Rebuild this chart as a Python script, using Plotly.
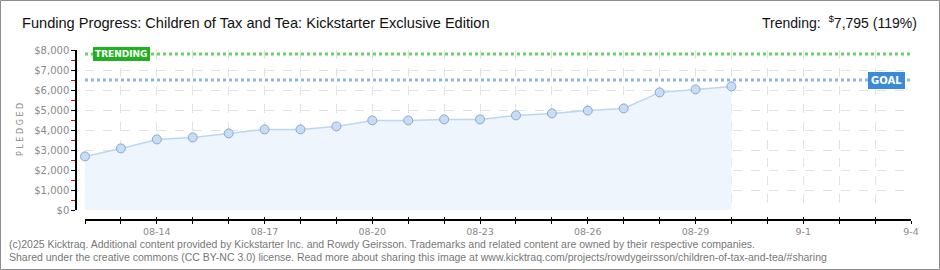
import plotly.graph_objects as go
import pandas as pd

# ---- data ----
dates = pd.date_range("2025-08-12", "2025-08-30").strftime("%Y-%m-%d").tolist()
pledged = [2680, 3080, 3530, 3630, 3830, 4030, 4030, 4180, 4480, 4480, 4530,
           4530, 4730, 4830, 4970, 5080, 5880, 6030, 6180]
goal = 6500
trending = 7800
x_start = "2025-08-12"
x_end = "2025-09-04"
tick_dates = pd.date_range(x_start, x_end).strftime("%Y-%m-%d").tolist()
label_dates = ["2025-08-14", "2025-08-17", "2025-08-20", "2025-08-23",
               "2025-08-26", "2025-08-29", "2025-09-01", "2025-09-04"]
label_texts = ["08-14", "08-17", "08-20", "08-23", "08-26", "08-29", "9-1", "9-4"]
y_ticks = [0, 1000, 2000, 3000, 4000, 5000, 6000, 7000, 8000]
y_labels = ["$0", "$1,000", "$2,000", "$3,000", "$4,000", "$5,000", "$6,000", "$7,000", "$8,000"]

title = "Funding Progress: Children of Tax and Tea: Kickstarter Exclusive Edition"
trend_text = "Trending:  <sup>$</sup>7,795 (119%)"
footer1 = ("(c)2025 Kicktraq. Additional content provided by Kickstarter Inc. and Rowdy Geirsson. "
           "Trademarks and related content are owned by their respective companies.")
footer2 = ("Shared under the creative commons (CC BY-NC 3.0) license. Read more about sharing this image at "
           "www.kicktraq.com/projects/rowdygeirsson/children-of-tax-and-tea/#sharing")

# ---- geometry ----
W, H = 940, 270
L, R, T, B = 76, 29, 50, 50
PW, PH = W - L - R, H - T - B


def px(x):
    return (x - L) / PW


def py(y):
    return (H - B - y) / PH


TICKFONT = dict(family="DejaVu Sans", size=10, color="#8a8a8a")
SANS = "Liberation Sans, Arial, sans-serif"
GRID = dict(showgrid=True, gridcolor="#e2e2e2", griddash="dash", gridwidth=1)

fig = go.Figure()
fig.add_trace(go.Scatter(
    x=dates, y=pledged, mode="lines+markers", fill="tozeroy",
    fillcolor="#eef5fd", line=dict(color="#bcd6f2", width=1.5),
    marker=dict(size=9, color="#c6ddf8", line=dict(color="#8fa6c6", width=1)),
    cliponaxis=False, hoverinfo="skip", showlegend=False,
))

# trending / goal lines
fig.add_shape(type="line", xref="x", yref="y", x0=x_start, x1=x_end, y0=trending, y1=trending,
              line=dict(color="#6ccf6c", width=3, dash="dot"), layer="above")
fig.add_shape(type="line", xref="x", yref="y", x0=x_start, x1=x_end, y0=goal, y1=goal,
              line=dict(color="#8fb6e2", width=3, dash="dot"), layer="above")

# outer border
fig.add_shape(type="rect", xref="paper", yref="paper",
              x0=px(0.5), x1=px(W - 0.5), y0=py(H - 0.5), y1=py(0.5),
              line=dict(color="#8c8c8c", width=1), layer="above")

ann = []
ann.append(dict(xref="paper", yref="y", x=px(93), y=trending, xanchor="left", yanchor="middle",
                text="<b>TRENDING</b>", showarrow=False, bgcolor="#22b022", bordercolor="#22b022",
                borderpad=1, font=dict(family="DejaVu Sans", size=9, color="white")))
ann.append(dict(xref="paper", yref="y", x=px(905), y=goal, xanchor="right", yanchor="middle",
                text="<b>GOAL</b>", showarrow=False, bgcolor="#3b8ad9", bordercolor="#3b8ad9",
                borderpad=2, font=dict(family="DejaVu Sans", size=10, color="white")))
ann.append(dict(xref="paper", yref="paper", x=px(20), y=py(23), xanchor="left", yanchor="middle",
                text=title, showarrow=False, font=dict(family=SANS, size=14.6, color="#111111")))
ann.append(dict(xref="paper", yref="paper", x=px(919), y=py(22), xanchor="right", yanchor="middle",
                text=trend_text, showarrow=False, font=dict(family=SANS, size=14, color="#111111")))
ann.append(dict(xref="paper", yref="paper", x=px(20), y=py(130), xanchor="center", yanchor="middle",
                text="P L E D G E D", textangle=-90, showarrow=False,
                font=dict(family="DejaVu Sans", size=8, color="#8a8a8a")))
ann.append(dict(xref="paper", yref="paper", x=px(7), y=py(244), xanchor="left", yanchor="middle",
                text=footer1, showarrow=False, font=dict(family=SANS, size=10.5, color="#777777")))
ann.append(dict(xref="paper", yref="paper", x=px(7), y=py(257), xanchor="left", yanchor="middle",
                text=footer2, showarrow=False, font=dict(family=SANS, size=10.5, color="#777777")))

fig.update_layout(
    width=W, height=H, margin=dict(l=L, r=R, t=T, b=B),
    paper_bgcolor="white", plot_bgcolor="white",
    annotations=ann, showlegend=False,
    xaxis=dict(
        type="date", range=[x_start, x_end], domain=[9 / PW, 1],
        anchor="free", position=0,
        tickmode="array", tickvals=label_dates, ticktext=label_texts,
        ticks="outside", ticklen=3, tickcolor="black", tickwidth=1,
        minor=dict(tickmode="array", tickvals=tick_dates, ticks="outside", ticklen=3,
                   tickcolor="black", **GRID),
        showline=True, linecolor="black", linewidth=1.5,
        zeroline=False, tickfont=dict(family="DejaVu Sans", size=9.5, color="#8a8a8a"),
        ticklabelstandoff=0, **GRID,
    ),
    xaxis2=dict(
        type="date", range=[x_start, x_end], domain=[9 / PW, 1],
        overlaying="x", anchor="free", position=0,
        tickmode="array", tickvals=tick_dates, ticks="inside", ticklen=3,
        tickcolor="black", showticklabels=False, showgrid=False, showline=False,
        zeroline=False,
    ),
    yaxis=dict(
        range=[0, 8000], domain=[10 / PH, 1], anchor="free", position=0,
        tickmode="array", tickvals=y_ticks, ticktext=y_labels,
        ticks="outside", ticklen=4, tickcolor="black",
        minor=dict(dtick=500, ticks="outside", ticklen=4, tickcolor="#e00000", showgrid=False),
        showline=True, linecolor="black", linewidth=1.5,
        zeroline=False, tickfont=TICKFONT, **GRID,
    ),
)
fig.add_trace(go.Scatter(x=[x_start, x_end], y=[None, None], xaxis="x2", yaxis="y",
                         showlegend=False, hoverinfo="skip"))

fig.write_html("out.html")
